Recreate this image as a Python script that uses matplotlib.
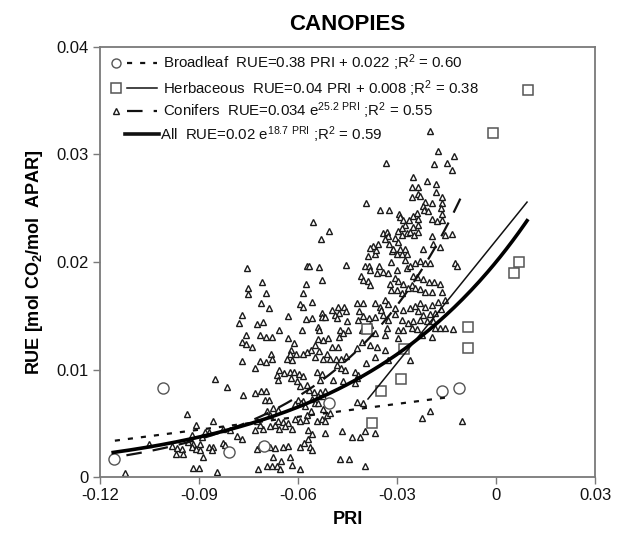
import numpy as np
import matplotlib
matplotlib.use("Agg")
import matplotlib.pyplot as plt

plt.rcParams['font.family'] = ['Liberation Sans', 'DejaVu Sans']
plt.rcParams['mathtext.fontset'] = 'custom'
plt.rcParams['mathtext.rm'] = 'Liberation Sans'
plt.rcParams['mathtext.bf'] = 'Liberation Sans:bold'
plt.rcParams['mathtext.default'] = 'regular'
plt.rcParams['axes.unicode_minus'] = False

# ---------------- data ----------------
conifer_pri = [
    -0.0555, -0.0505, -0.0531, -0.0756, -0.0574, -0.0568, -0.0537, -0.0710, -0.0752, -0.0752,
    -0.0696, -0.0576, -0.0527, -0.0584, -0.0713, -0.0689, -0.0594, -0.0584, -0.0559, -0.0770,
    -0.0780, -0.0723, -0.0706, -0.0629, -0.0657, -0.0587, -0.0576, -0.0558, -0.0527, -0.0527,
    -0.0519, -0.0540, -0.0537, -0.0715, -0.0697, -0.0679, -0.0759, -0.0769, -0.0759, -0.0740,
    -0.0629, -0.0611, -0.0538, -0.0523, -0.0548, -0.0508,
    -0.0455, -0.0496, -0.0480, -0.0461, -0.0476, -0.0489, -0.0483, -0.0455, -0.0422, -0.0415,
    -0.0452, -0.0473, -0.0463, -0.0448, -0.0417, -0.0476, -0.0498, -0.0480, -0.0562, -0.0574,
    -0.0584, -0.0622, -0.0624, -0.0606, -0.0634, -0.0617, -0.0682, -0.0678, -0.0715, -0.0697,
    -0.0771, -0.0548, -0.0536, -0.0511, -0.0503, -0.0485, -0.0471, -0.0455, -0.0523,
    -0.0730, -0.0665, -0.0660, -0.0768, -0.0730, -0.0713, -0.0697, -0.0700, -0.0687, -0.0852,
    -0.0816, -0.0937, -0.0910, -0.0857, -0.0882, -0.0869, -0.0826, -0.0806, -0.0786, -0.0771,
    -0.0922, -0.0892, -0.0932, -0.0917, -0.0897, -0.0983, -0.0968, -0.0952, -0.0970, -0.0948,
    -0.0922, -0.0909, -0.0897, -0.0870, -0.0857, -0.0862, -0.0889, -0.0826, -0.0821, -0.0725,
    -0.0715, -0.0685, -0.0670, -0.0705, -0.0685, -0.0670, -0.0715, -0.0725, -0.0730, -0.0695,
    -0.0685, -0.0675, -0.0660, -0.0917, -0.0899, -0.0846, -0.0720, -0.0695, -0.0680, -0.0665,
    -0.0675, -0.1124, -0.1053,
    -0.0395, -0.0658, -0.0642, -0.0624, -0.0611, -0.0597, -0.0584, -0.0543, -0.0528, -0.0483,
    -0.0470, -0.0458, -0.0427, -0.0419, -0.0621, -0.0604, -0.0594, -0.0574, -0.0567, -0.0551,
    -0.0533, -0.0518, -0.0533, -0.0493, -0.0463, -0.0427, -0.0422, -0.0559, -0.0540, -0.0523,
    -0.0599, -0.0584, -0.0609, -0.0591, -0.0579, -0.0548, -0.0538, -0.0523, -0.0561, -0.0574,
    -0.0577, -0.0594, -0.0609, -0.0629, -0.0645, -0.0660, -0.0619, -0.0639, -0.0658, -0.0543,
    -0.0528, -0.0513, -0.0503, -0.0518, -0.0569, -0.0559, -0.0571, -0.0581, -0.0564, -0.0594,
    -0.0629, -0.0645, -0.0624, -0.0652, -0.0617, -0.0594, -0.0655, -0.0559, -0.0518, -0.0468,
    -0.0435, -0.0412, -0.0397, -0.0367, -0.0422, -0.0402, -0.0473, -0.0445, -0.0397,
    -0.0225, -0.0200, -0.0102,
    -0.0389, -0.0367, -0.0365, -0.0316, -0.0301, -0.0286, -0.0271, -0.0318, -0.0276, -0.0245,
    -0.0230, -0.0215, -0.0200, -0.0124, -0.0119, -0.0397, -0.0385, -0.0382, -0.0355, -0.0409,
    -0.0402, -0.0387, -0.0382, -0.0362, -0.0342, -0.0326, -0.0301, -0.0271, -0.0261, -0.0251,
    -0.0240, -0.0220, -0.0203, -0.0187, -0.0170, -0.0255, -0.0281, -0.0306, -0.0296, -0.0321,
    -0.0318, -0.0301, -0.0286, -0.0266, -0.0245, -0.0230, -0.0215, -0.0195, -0.0163, -0.0402,
    -0.0367, -0.0352, -0.0336, -0.0326, -0.0306, -0.0281, -0.0261, -0.0245, -0.0230, -0.0215,
    -0.0195, -0.0175, -0.0155, -0.0235, -0.0220, -0.0200, -0.0185, -0.0167, -0.0402, -0.0385,
    -0.0367, -0.0348, -0.0342, -0.0326, -0.0306, -0.0286, -0.0266, -0.0251, -0.0230, -0.0210,
    -0.0190, -0.0298, -0.0281, -0.0255, -0.0240, -0.0185, -0.0170, -0.0155, -0.0131, -0.0407,
    -0.0382, -0.0331, -0.0367, -0.0336, -0.0296, -0.0225, -0.0193, -0.0407, -0.0382, -0.0362,
    -0.0336, -0.0367, -0.0261, -0.0326, -0.0422,
    -0.0177, -0.0127, -0.0334, -0.0187, -0.0149, -0.0134, -0.0251, -0.0210, -0.0182, -0.0254,
    -0.0235, -0.0237, -0.0183, -0.0255, -0.0230, -0.0165, -0.0215, -0.0195, -0.0163, -0.0167,
    -0.0220, -0.0217, -0.0207, -0.0395, -0.0352, -0.0324, -0.0294, -0.0291, -0.0281, -0.0264,
    -0.0251, -0.0240, -0.0235, -0.0165, -0.0195, -0.0180, -0.0165, -0.0251, -0.0235, -0.0276,
    -0.0296, -0.0286, -0.0342, -0.0331, -0.0326, -0.0336, -0.0306, -0.0286, -0.0271, -0.0261,
    -0.0248, -0.0235, -0.0296, -0.0155, -0.0134, -0.0193, -0.0170, -0.0372, -0.0357, -0.0382,
    -0.0324, -0.0311, -0.0291, -0.0276, -0.0220, -0.0190,
    -0.0200,
]
conifer_rue = [
    0.0237, 0.0229, 0.0221, 0.0194, 0.0196, 0.0196, 0.0195, 0.0181, 0.0176, 0.0170,
    0.0171, 0.0180, 0.0183, 0.0171, 0.0162, 0.0157, 0.0161, 0.0158, 0.0163, 0.0151,
    0.0143, 0.0142, 0.0144, 0.0150, 0.0137, 0.0137, 0.0147, 0.0148, 0.0153, 0.0149,
    0.0149, 0.0140, 0.0137, 0.0132, 0.0130, 0.0130, 0.0132, 0.0126, 0.0124, 0.0121,
    0.0129, 0.0125, 0.0128, 0.0127, 0.0123, 0.0129,
    0.0197, 0.0155, 0.0158, 0.0158, 0.0153, 0.0151, 0.0148, 0.0154, 0.0162, 0.0154,
    0.0145, 0.0137, 0.0134, 0.0137, 0.0146, 0.0130, 0.0121, 0.0121, 0.0118, 0.0116,
    0.0114, 0.0118, 0.0114, 0.0114, 0.0110, 0.0109, 0.0114, 0.0110, 0.0108, 0.0107,
    0.0108, 0.0112, 0.0117, 0.0114, 0.0110, 0.0110, 0.0110, 0.0113, 0.0110,
    0.0101, 0.0095, 0.0090, 0.0076, 0.0078, 0.0080, 0.0080, 0.0072, 0.0072, 0.0091,
    0.0084, 0.0059, 0.0048, 0.0052, 0.0042, 0.0042, 0.0045, 0.0044, 0.0038, 0.0035,
    0.0039, 0.0037, 0.0033, 0.0031, 0.0031, 0.0029, 0.0027, 0.0026, 0.0021, 0.0021,
    0.0028, 0.0026, 0.0025, 0.0028, 0.0028, 0.0025, 0.0019, 0.0032, 0.0030, 0.0026,
    0.0030, 0.0028, 0.0027, 0.0045, 0.0047, 0.0048, 0.0048, 0.0052, 0.0044, 0.0061,
    0.0058, 0.0064, 0.0062, 0.0008, 0.0008, 0.0005, 0.0007, 0.0010, 0.0010, 0.0010,
    0.0019, 0.0004, 0.0031,
    0.0106, 0.0100, 0.0097, 0.0098, 0.0098, 0.0096, 0.0094, 0.0098, 0.0096, 0.0104,
    0.0101, 0.0100, 0.0098, 0.0095, 0.0092, 0.0089, 0.0085, 0.0086, 0.0081, 0.0079,
    0.0079, 0.0080, 0.0090, 0.0090, 0.0089, 0.0087, 0.0092, 0.0073, 0.0075, 0.0075,
    0.0072, 0.0071, 0.0068, 0.0069, 0.0066, 0.0069, 0.0069, 0.0063, 0.0061, 0.0058,
    0.0053, 0.0052, 0.0054, 0.0050, 0.0051, 0.0052, 0.0045, 0.0047, 0.0045, 0.0052,
    0.0054, 0.0058, 0.0060, 0.0052, 0.0044, 0.0040, 0.0035, 0.0032, 0.0028, 0.0028,
    0.0029, 0.0028, 0.0019, 0.0015, 0.0011, 0.0007, 0.0007, 0.0025, 0.0041, 0.0043,
    0.0037, 0.0037, 0.0043, 0.0041, 0.0070, 0.0069, 0.0017, 0.0017, 0.0010,
    0.0055, 0.0061, 0.0052,
    0.0206, 0.0207, 0.0211, 0.0210, 0.0207, 0.0207, 0.0207, 0.0200, 0.0202, 0.0199,
    0.0201, 0.0199, 0.0199, 0.0199, 0.0196, 0.0196, 0.0196, 0.0193, 0.0196, 0.0187,
    0.0183, 0.0182, 0.0179, 0.0190, 0.0191, 0.0190, 0.0193, 0.0194, 0.0196, 0.0187,
    0.0186, 0.0184, 0.0181, 0.0181, 0.0180, 0.0179, 0.0180, 0.0185, 0.0182, 0.0180,
    0.0174, 0.0174, 0.0171, 0.0176, 0.0176, 0.0175, 0.0172, 0.0172, 0.0172, 0.0162,
    0.0162, 0.0158, 0.0165, 0.0161, 0.0157, 0.0155, 0.0157, 0.0159, 0.0162, 0.0158,
    0.0160, 0.0163, 0.0165, 0.0154, 0.0151, 0.0152, 0.0153, 0.0156, 0.0150, 0.0148,
    0.0149, 0.0155, 0.0151, 0.0146, 0.0152, 0.0146, 0.0143, 0.0145, 0.0146, 0.0145,
    0.0145, 0.0137, 0.0137, 0.0139, 0.0138, 0.0139, 0.0139, 0.0139, 0.0138, 0.0137,
    0.0141, 0.0139, 0.0134, 0.0132, 0.0129, 0.0132, 0.0130, 0.0126, 0.0123, 0.0121,
    0.0118, 0.0112, 0.0109, 0.0109, 0.0120,
    0.0303, 0.0299, 0.0292, 0.0291, 0.0292, 0.0286, 0.0279, 0.0275, 0.0273, 0.0270,
    0.0270, 0.0263, 0.0265, 0.0260, 0.0261, 0.0260, 0.0256, 0.0255, 0.0255, 0.0250,
    0.0252, 0.0248, 0.0247, 0.0255, 0.0248, 0.0248, 0.0245, 0.0242, 0.0239, 0.0239,
    0.0243, 0.0246, 0.0240, 0.0245, 0.0240, 0.0238, 0.0239, 0.0233, 0.0234, 0.0234,
    0.0229, 0.0232, 0.0227, 0.0228, 0.0224, 0.0221, 0.0222, 0.0225, 0.0227, 0.0228,
    0.0225, 0.0228, 0.0219, 0.0225, 0.0226, 0.0224, 0.0214, 0.0215, 0.0217, 0.0213,
    0.0217, 0.0212, 0.0212, 0.0212, 0.0212, 0.0217,
    0.0322,
]

broadleaf_pri = [-0.1158, -0.1009, -0.0809, -0.0703, -0.0506, -0.0164, -0.0112]
broadleaf_rue = [0.0017, 0.0083, 0.0023, 0.0029, 0.0069, 0.0080, 0.0083]

herb_pri = [-0.0376, -0.0348, -0.0288, -0.0279, -0.0391, -0.0085, -0.0085, 0.0055, 0.0070, -0.0009, 0.0098]
herb_rue = [0.0050, 0.0080, 0.0091, 0.0119, 0.0138, 0.0140, 0.0120, 0.0190, 0.0200, 0.0320, 0.0360]

# regression lines as drawn (coefficients and PRI ranges)
broad_fit = dict(slope=0.04, intercept=0.008, x0=-0.1155, x1=-0.0148)
herb_fit = dict(slope=0.38, intercept=0.022, x0=-0.0388, x1=0.0094)
conif_fit = dict(a=0.034, b=25.2, x0=-0.112, x1=-0.0103)
all_fit = dict(a=0.02, b=18.7, x0=-0.116, x1=0.0094)

legend_labels = [
    "Broadleaf  RUE=0.38 PRI + 0.022 ;R$^2$ = 0.60",
    "Herbaceous  RUE=0.04 PRI + 0.008 ;R$^2$ = 0.38",
    "Conifers  RUE=0.034 e$^{25.2\\ PRI}$ ;R$^2$ = 0.55",
    "All  RUE=0.02 e$^{18.7\\ PRI}$ ;R$^2$ = 0.59",
]
xticks = [-0.12, -0.09, -0.06, -0.03, 0, 0.03]
xticklabels = ["-0.12", "-0.09", "-0.06", "-0.03", "0", "0.03"]
yticks = [0, 0.01, 0.02, 0.03, 0.04]
yticklabels = ["0", "0.01", "0.02", "0.03", "0.04"]

# ---------------- figure ----------------
fig = plt.figure(figsize=(6.27, 5.37), dpi=100)
ax = fig.add_axes([0.1595, 0.1117, 0.7895, 0.8008])

spine_c = '#7a7a7a'
tri_kw = dict(marker='^', ms=5, mfc='white', mec='#1a1a1a', mew=1.0, ls='none')
cir_kw = dict(marker='o', ms=8, mfc='white', mec='#555555', mew=1.0, ls='none')
sq_kw = dict(marker='s', ms=7.5, mfc='white', mec='#555555', mew=1.1, ls='none')

ax.plot(conifer_pri, conifer_rue, zorder=2, **tri_kw)
ax.plot(broadleaf_pri, broadleaf_rue, zorder=2, **cir_kw)
ax.plot(herb_pri, herb_rue, zorder=2, **sq_kw)

xb = np.linspace(broad_fit['x0'], broad_fit['x1'], 50)
lb, = ax.plot(xb, broad_fit['slope'] * xb + broad_fit['intercept'], color='#111111', lw=1.6, zorder=3)
lb.set_dashes([2.3, 3.6])
xh = np.linspace(herb_fit['x0'], herb_fit['x1'], 50)
ax.plot(xh, herb_fit['slope'] * xh + herb_fit['intercept'], color='#111111', lw=1.1, zorder=3)
xc = np.linspace(conif_fit['x0'], conif_fit['x1'], 200)
lc, = ax.plot(xc, conif_fit['a'] * np.exp(conif_fit['b'] * xc), color='#111111', lw=1.6, zorder=3)
lc.set_dashes([7, 5])
xa = np.linspace(all_fit['x0'], all_fit['x1'], 200)
ax.plot(xa, all_fit['a'] * np.exp(all_fit['b'] * xa), color='#000000', lw=2.6, zorder=4)

ax.set_xlim(-0.12, 0.03)
ax.set_ylim(0, 0.04)
ax.set_xticks(xticks)
ax.set_xticklabels(xticklabels)
ax.set_yticks(yticks)
ax.set_yticklabels(yticklabels)
ax.tick_params(direction='out', length=5, width=1, colors=spine_c, labelcolor='#111111',
               labelsize=12, pad=3)
for s in ax.spines.values():
    s.set_color(spine_c)
    s.set_linewidth(1.3)

ax.set_title("CANOPIES", fontsize=16, fontweight='bold', pad=12)
ax.set_xlabel("PRI", fontsize=13, fontweight='bold', labelpad=6)
ax.set_ylabel("RUE [mol CO$_2$/mol  APAR]", fontsize=13, fontweight='bold', labelpad=8)

# ---------------- legend (drawn inside the axes) ----------------
rows = [0.9635, 0.904, 0.851, 0.797]
mk = [dict(cir_kw, ms=6.5), dict(sq_kw, ms=6.5), tri_kw, None]
styles = [dict(lw=1.6, dashes=[2.3, 3.6]), dict(lw=1.1), dict(lw=1.6, dashes=[7, 5]), dict(lw=2.6)]
for i, (yy, lab) in enumerate(zip(rows, legend_labels)):
    if mk[i] is not None:
        ax.plot([0.0333], [yy], transform=ax.transAxes, clip_on=False, zorder=5, **mk[i])
        x0, x1, xt = 0.054, 0.115, 0.127
    else:
        x0, x1, xt = 0.0505, 0.119, 0.121
    st = dict(styles[i])
    d = st.pop('dashes', None)
    ln, = ax.plot([x0, x1], [yy, yy], transform=ax.transAxes, color='#111111',
                  clip_on=False, zorder=5, **st)
    if d is not None:
        ln.set_dashes(d)
    ax.text(xt, yy, lab, transform=ax.transAxes, fontsize=10.8, va='center', ha='left',
            color='#111111')

fig.savefig("out.png", dpi=100)
